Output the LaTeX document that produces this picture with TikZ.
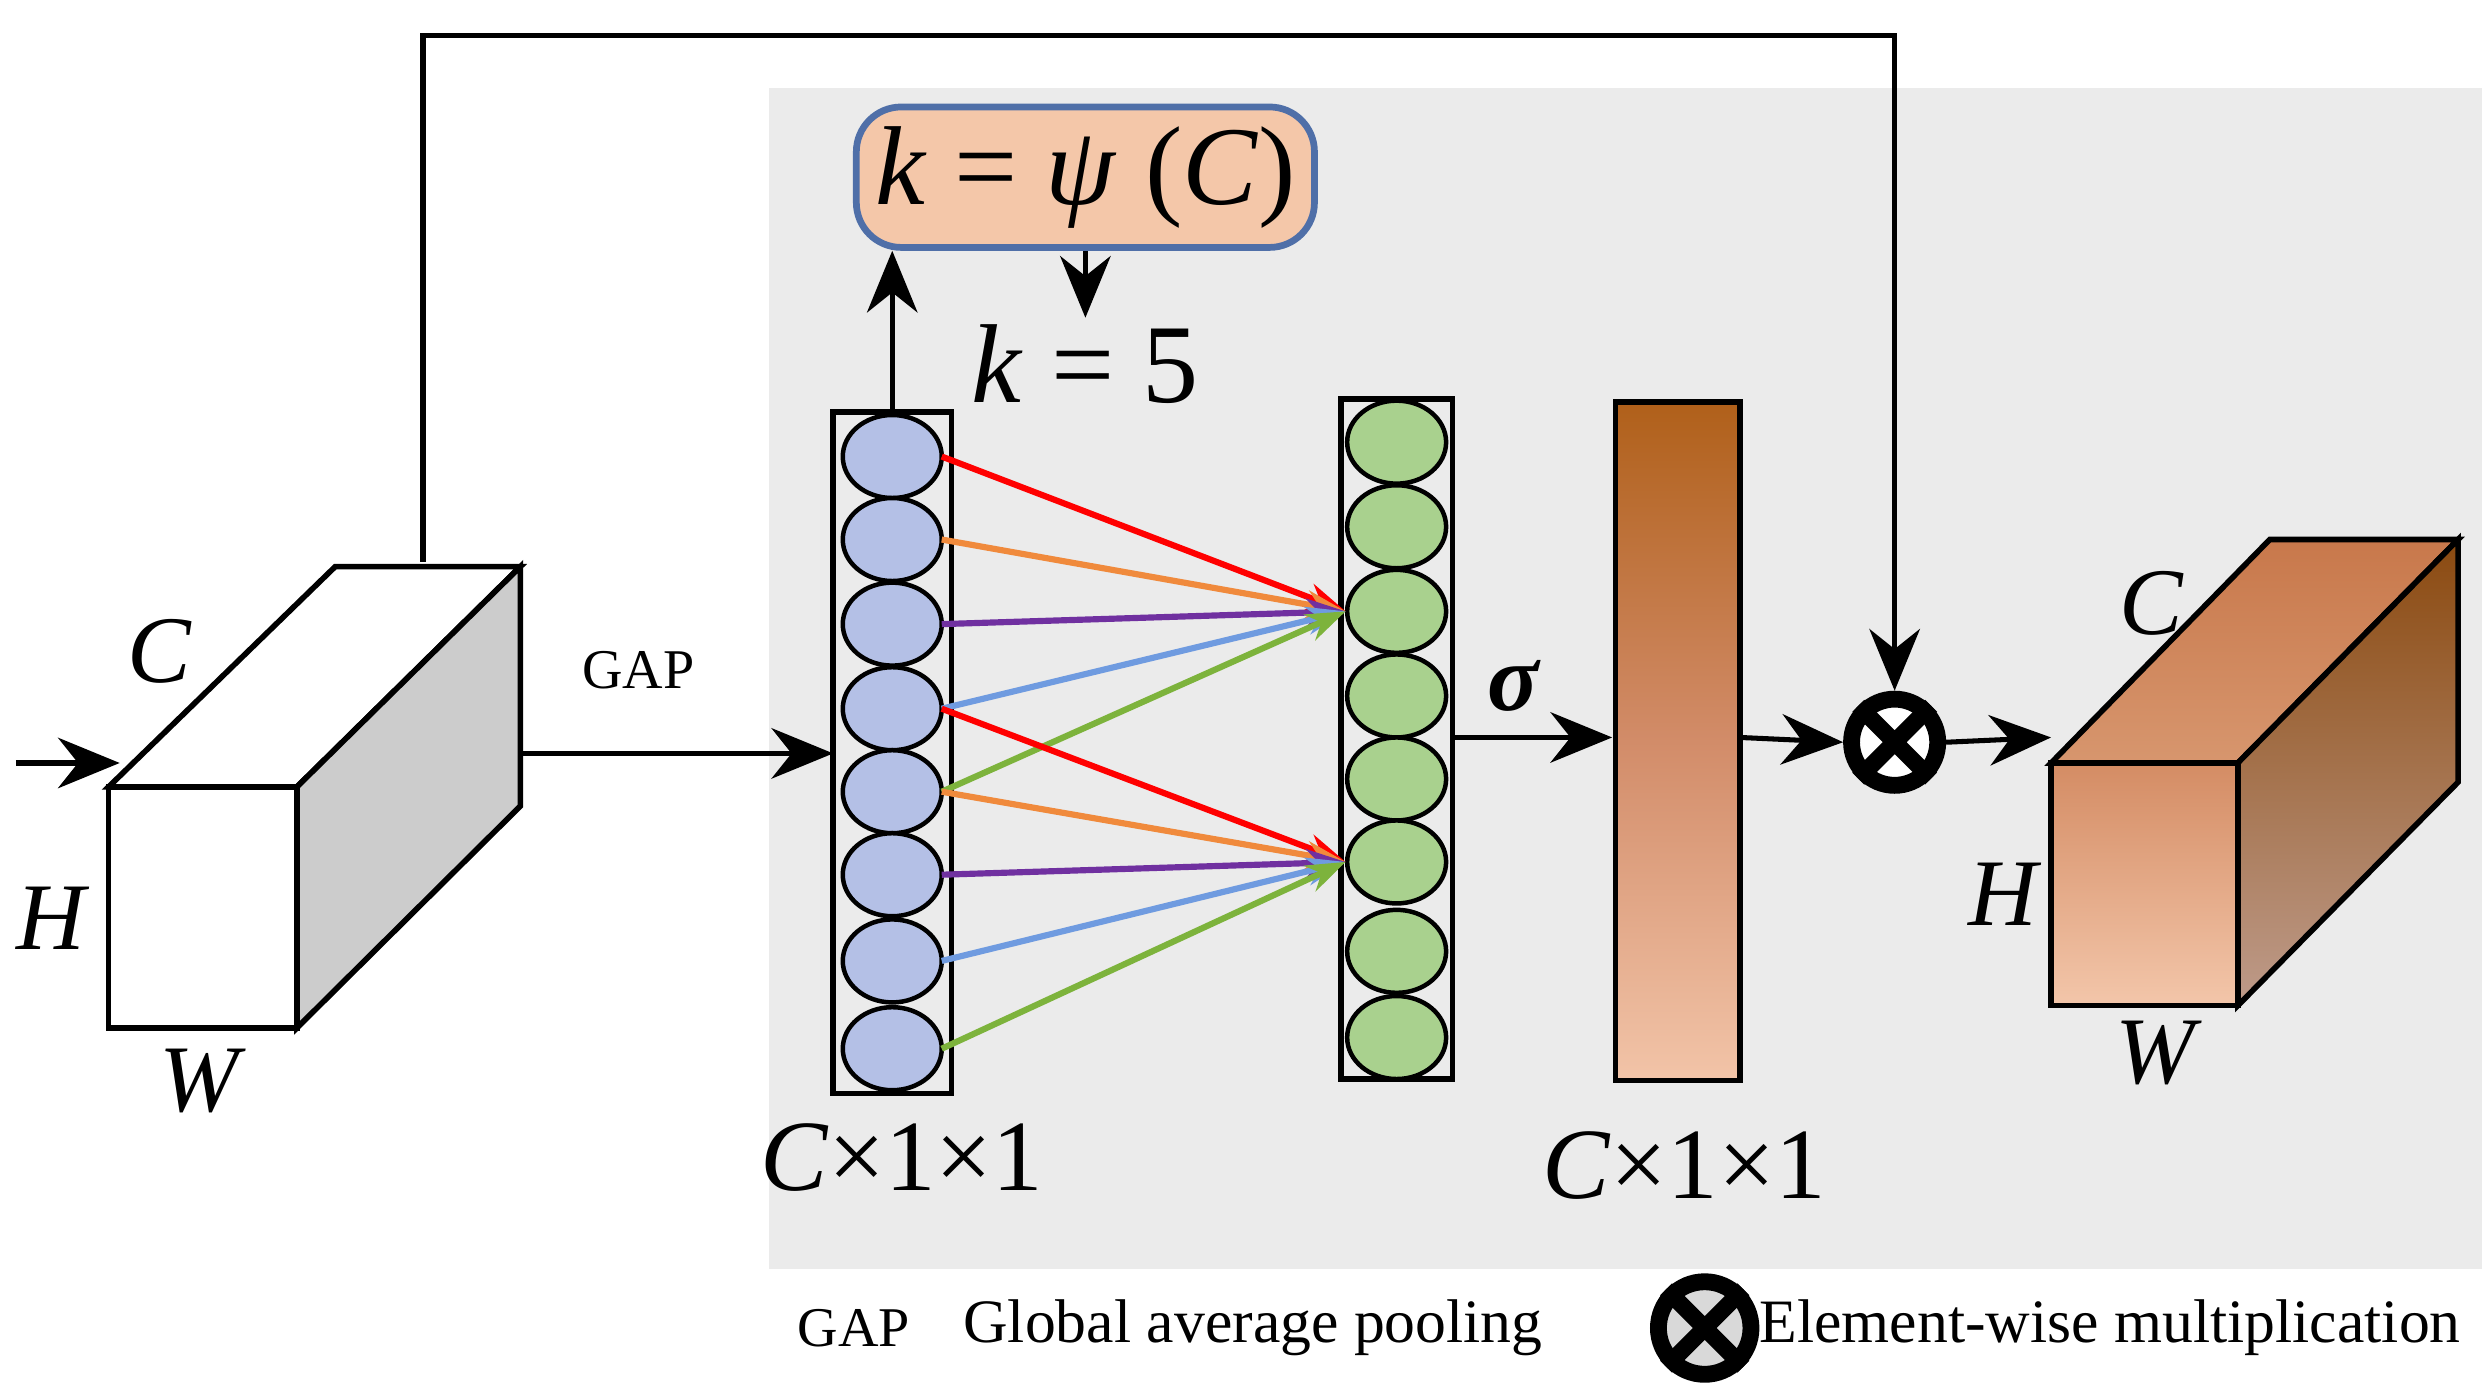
\documentclass[tikz,border=0pt]{standalone}
\usepackage{fontspec}
\setmainfont{Liberation Serif}
\usetikzlibrary{arrows.meta,calc}
\definecolor{bgg}{HTML}{EBEBEB}
\definecolor{lav}{HTML}{B4C0E6}
\definecolor{grn}{HTML}{A9D18E}
\definecolor{peach}{HTML}{F4C7A9}
\definecolor{boxb}{HTML}{4F6FA8}
\definecolor{cblue}{HTML}{6F9BE0}
\definecolor{cgreen}{HTML}{7DB33C}
\definecolor{corange}{HTML}{F08A3C}
\definecolor{cpurple}{HTML}{7030A0}
\begin{document}
\begin{tikzpicture}[x=0.1mm,y=-0.1mm,
  ar/.style={-{Stealth[length=11pt,width=9pt]},line width=0.9pt},
  big/.style={font=\fontsize{17}{19}\selectfont\itshape},
  sm/.style={font=\fontsize{10}{12}\selectfont},
  ell/.style={draw=black,line width=0.8pt},
  ln/.style={-{Stealth[length=7pt,width=5pt]},line width=1.1pt},
  otim/.style={circle,draw=black,line width=3pt,minimum size=5.4mm,inner sep=0pt}]
\useasboundingbox (0,0) rectangle (1560,870);
\fill[bgg] (482,55) rectangle (1555,795);
% left cuboid
\draw[line width=1pt,fill=white] (68,493)--(210,355)--(326,355)--(186,493)--cycle;
\draw[line width=1pt,fill=gray!40] (186,493)--(326,355)--(326,505)--(186,644)--cycle;
\draw[line width=1pt,fill=white] (68,493) rectangle (186,644);
\coordinate (cubtop) at (265,352);
\node[big] (lC) at (100,408) {C};
\node[big] (lH) at (32,575) {H};
\node[big] (lW) at (125,677) {W};
\coordinate (in0) at (10,478); \coordinate (in1) at (75,478);
\draw[ar] (in0)--(in1);
% GAP arrow
\node[sm] (gap) at (400,420) {GAP};
\coordinate (g0) at (326,472); \coordinate (g1) at (522,472);
\draw[ar] (g0)--(g1);
% columns
\draw[line width=1pt] (522,258) rectangle (596,685);
\draw[line width=1pt] (840,250) rectangle (910,676);
\foreach \y [count=\i] in {286,338,391,444,496,548,602,657}{
  \draw[ell,fill=lav] (559,\y) ellipse (31 and 26);
  \coordinate (L\i) at (590,\y);}
\foreach \y [count=\i] in {277,330,383,436,488,540,596,650}{
  \draw[ell,fill=grn] (875,\y) ellipse (31 and 26);
  \coordinate (R\i) at (843,\y);}
% connections
\foreach \a/\c in {1/red,2/corange,3/cpurple,4/cblue,5/cgreen}
  \draw[ln,draw=\c] (L\a) -- (R3);
\foreach \a/\c in {4/red,5/corange,6/cpurple,7/cblue,8/cgreen}
  \draw[ln,draw=\c] (L\a) -- (R6);
% k box
\node[draw=boxb,fill=peach,rounded corners=8,line width=1.2pt,minimum width=28.4mm,minimum height=8.8mm,font=\fontsize{20}{22}\selectfont] (kb) at (680,111) {\textit{k} = \textit{ψ} (\textit{C})};
\coordinate (u0) at (559,258);
\draw[ar] (u0)--(u0|-kb.south);
\node[font=\fontsize{20}{22}\selectfont,inner sep=1pt] (k5) at (680,228) {\textit{k} = 5};
\draw[ar] (kb.south)--(k5.north);
% sigma & bar
\node[font=\fontsize{17}{19}\selectfont\bfseries\itshape] (sig) at (948,430) {σ};
\shade[top color={rgb,255:red,176;green,96;blue,26},bottom color={rgb,255:red,242;green,196;blue,168},middle color={rgb,255:red,210;green,140;blue,105}] (1012,252) rectangle (1090,677);
\draw[line width=1pt] (1012,252) rectangle (1090,677);
\coordinate (s0) at (910,462); \coordinate (s1) at (1010,462);
\draw[ar] (s0)--(s1);
\node[font=\fontsize{18}{20}\selectfont] (c1) at (565,725) {\textit{C}×1×1};
\node[font=\fontsize{18}{20}\selectfont] (c2) at (1055,730) {\textit{C}×1×1};
% otimes
\node[otim,fill=white] (ot) at (1187,465) {};
\draw[line width=3pt] (ot.north west)--(ot.south east) (ot.north east)--(ot.south west);
\coordinate (b0) at (1090,462);
\draw[ar] (b0)--(ot.west);
\coordinate (o1) at (1285,462);
\draw[ar] (ot.east)--(o1);
\draw[ar] (cubtop)--(265,22)--(1187,22)--(ot.north);
% right cuboid
\shade[top color={rgb,255:red,200;green,120;blue,75},bottom color={rgb,255:red,215;green,150;blue,110}] (1285,478)--(1422,338)--(1540,338)--(1402,478)--cycle;
\draw[line width=1pt] (1285,478)--(1422,338)--(1540,338)--(1402,478)--cycle;
\shade[top color={rgb,255:red,139;green,74;blue,16},bottom color={rgb,255:red,190;green,155;blue,138}] (1402,478)--(1540,338)--(1540,490)--(1402,630)--cycle;
\draw[line width=1pt] (1402,478)--(1540,338)--(1540,490)--(1402,630)--cycle;
\shade[top color={rgb,255:red,212;green,140;blue,100},bottom color={rgb,255:red,243;green,198;blue,170}] (1285,478) rectangle (1402,630);
\draw[line width=1pt] (1285,478) rectangle (1402,630);
\node[big] (rC) at (1348,378) {C};
\node[big] (rH) at (1255,560) {H};
\node[big] (rW) at (1350,660) {W};
% legend
\node[sm] (lg1) at (535,832) {GAP};
\node[font=\fontsize{11}{13}\selectfont] (lg2) at (785,832) {Global average pooling};
\node[otim,fill=gray!30,minimum size=5.8mm] (lot) at (1068,832) {};
\draw[line width=3pt] (lot.north west)--(lot.south east) (lot.north east)--(lot.south west);
\node[font=\fontsize{11}{13}\selectfont] (lg3) at (1322,832) {Element-wise multiplication};
\end{tikzpicture}
\end{document}
